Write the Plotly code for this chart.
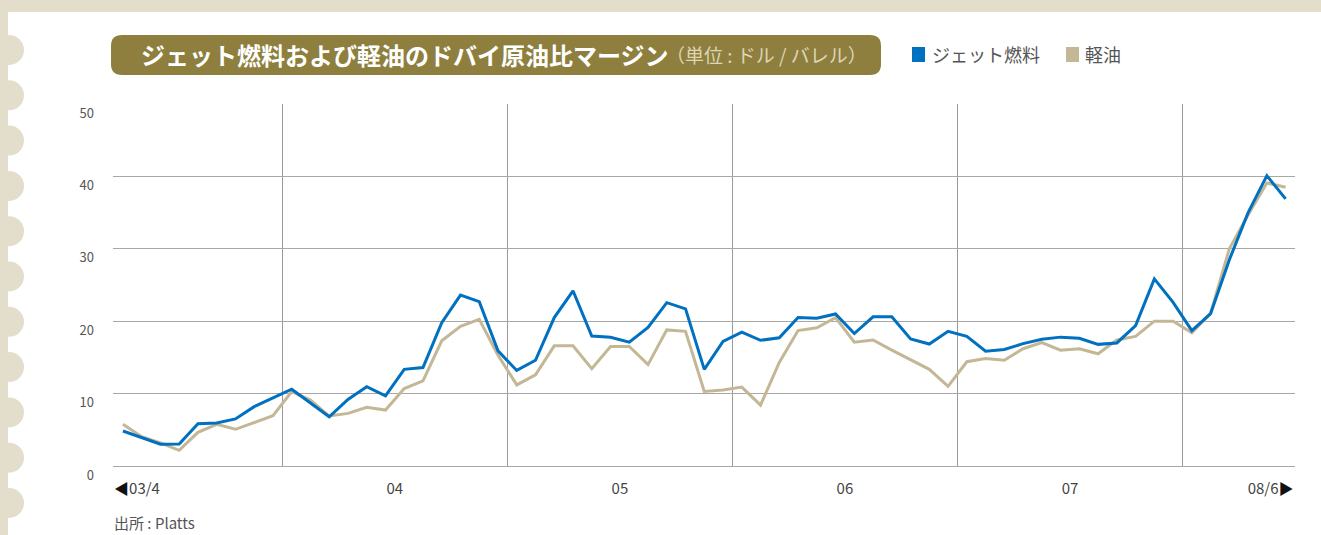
import plotly.graph_objects as go

# ---- data (monthly, 2003/4 .. 2008/6) ----
months = list(range(63))
jet = [4.83, 3.9, 3.0, 3.04, 5.85, 5.94, 6.5, 8.2, 9.35, 10.6, 8.7, 6.8, 9.2, 10.95, 9.7,
       13.35, 13.6, 19.8, 23.6, 22.7, 15.9, 13.2, 14.6,
       20.5, 24.2, 17.96, 17.77, 17.1, 19.15, 22.56, 21.7, 13.35, 17.2, 18.5, 17.36, 17.7,
       20.5, 20.4, 21.0, 18.3, 20.6, 20.6, 17.54, 16.85, 18.6,
       17.9, 15.85, 16.1, 16.9, 17.5, 17.8, 17.65, 16.8, 17.0, 19.4, 25.85, 22.6, 18.7,
       21.06, 28.5, 35.0, 40.1, 36.9]
diesel = [5.75, 4.05, 3.2, 2.17, 4.65, 5.75, 5.07, 6.03, 6.95, 10.27, 9.1, 6.9, 7.27, 8.1, 7.73,
          10.7, 11.75, 17.3, 19.3, 20.25, 15.3, 11.2, 12.6,
          16.6, 16.6, 13.45, 16.5, 16.5, 14.0, 18.8, 18.6, 10.3, 10.5, 10.9, 8.4, 14.3,
          18.7, 19.1, 20.5, 17.1, 17.4, 16.0, 14.7, 13.35, 11.0,
          14.4, 14.84, 14.6, 16.2, 17.05, 16.0, 16.2, 15.5, 17.4, 17.9, 20.0, 20.0, 18.4,
          21.1, 30.0, 34.7, 39.1, 38.5]
x_tickvals = [0.75, 14.5, 26.5, 38.5, 50.5, 61.2]
x_ticktext = ["<span style='color:#111'>◀</span>03/4", "04", "05", "06", "07",
              "08/6<span style='color:#111'>▶</span>"]
y_tickvals = [0, 10, 20, 30, 40, 50]

series_names = ["ジェット燃料", "軽油"]
title_main = "ジェット燃料および軽油のドバイ原油比マージン"
title_unit = "（単位 : ドル / バレル）"
source_text = "出所 : Platts"

BLUE = "#0070c0"
TAN = "#c4b796"
BEIGE = "#e3ddcb"
OLIVE = "#8e7f3e"
FONT = "Noto Sans CJK JP"

W, H = 1321, 535
L, R, T, B = 113, 1295, 104, 466


def px(x):
    return (x - L) / (R - L)


def py(y):
    return (B - y) / (B - T)


fig = go.Figure()
fig.add_trace(go.Scatter(x=months, y=diesel, mode="lines", name=series_names[1],
                         line=dict(color=TAN, width=3), showlegend=False))
fig.add_trace(go.Scatter(x=months, y=jet, mode="lines", name=series_names[0],
                         line=dict(color=BLUE, width=3), showlegend=False))

shapes = []
# beige frame: top band, left band, scallops
shapes.append(dict(type="rect", xref="paper", yref="paper", x0=px(0), x1=px(W), y0=py(0), y1=py(12),
                   fillcolor=BEIGE, line=dict(width=0), layer="below"))
shapes.append(dict(type="rect", xref="paper", yref="paper", x0=px(0), x1=px(8), y0=py(0), y1=py(H),
                   fillcolor=BEIGE, line=dict(width=0), layer="below"))
for k in range(11):
    cy = 50 + 45.3 * k
    r = 15
    shapes.append(dict(type="circle", xref="paper", yref="paper", x0=px(9 - r), x1=px(9 + r),
                       y0=py(cy + r), y1=py(cy - r), fillcolor=BEIGE, line=dict(width=0), layer="below"))

# rounded title box
x0, x1, y0, y1, rr = 111, 881, 35, 75, 11
path = (f"M {px(x0+rr)},{py(y0)} L {px(x1-rr)},{py(y0)} Q {px(x1)},{py(y0)} {px(x1)},{py(y0+rr)} "
        f"L {px(x1)},{py(y1-rr)} Q {px(x1)},{py(y1)} {px(x1-rr)},{py(y1)} "
        f"L {px(x0+rr)},{py(y1)} Q {px(x0)},{py(y1)} {px(x0)},{py(y1-rr)} "
        f"L {px(x0)},{py(y0+rr)} Q {px(x0)},{py(y0)} {px(x0+rr)},{py(y0)} Z")
shapes.append(dict(type="path", xref="paper", yref="paper", path=path, fillcolor=OLIVE,
                   line=dict(width=0), layer="below"))

# legend squares
shapes.append(dict(type="rect", xref="paper", yref="paper", x0=px(912), x1=px(925), y0=py(62), y1=py(47),
                   fillcolor=BLUE, line=dict(width=0)))
shapes.append(dict(type="rect", xref="paper", yref="paper", x0=px(1066), x1=px(1079), y0=py(62), y1=py(47),
                   fillcolor=TAN, line=dict(width=0)))

annotations = [
    dict(text=f"<b>{title_main}</b>", xref="paper", yref="paper", x=px(139), y=py(55),
         xanchor="left", yanchor="middle", showarrow=False,
         font=dict(family=FONT, size=24, color="white")),
    dict(text=title_unit, xref="paper", yref="paper", x=px(664), y=py(55),
         xanchor="left", yanchor="middle", showarrow=False,
         font=dict(family=FONT, size=19, color="#ddd5b5")),
    dict(text=series_names[0], xref="paper", yref="paper", x=px(930), y=py(54),
         xanchor="left", yanchor="middle", showarrow=False,
         font=dict(family=FONT, size=18, color="#555555")),
    dict(text=series_names[1], xref="paper", yref="paper", x=px(1083), y=py(54),
         xanchor="left", yanchor="middle", showarrow=False,
         font=dict(family=FONT, size=18, color="#555555")),
    dict(text=source_text, xref="paper", yref="paper", x=px(112), y=py(522),
         xanchor="left", yanchor="middle", showarrow=False,
         font=dict(family=FONT, size=15, color="#555555")),
]

fig.update_layout(
    width=W, height=H,
    margin=dict(l=L, r=W - R, t=T, b=H - B, pad=0),
    paper_bgcolor="white", plot_bgcolor="white",
    shapes=shapes, annotations=annotations,
    showlegend=False,
    xaxis=dict(range=[-0.53, 62.5], tickvals=x_tickvals, ticktext=x_ticktext,
               showgrid=False, zeroline=False, showline=False, ticks="",
               tickfont=dict(family=FONT, size=15, color="#444444"),
               ticklabelstandoff=12,
               minor=dict(tick0=8.5, dtick=12, showgrid=True, gridcolor="#9a9a9a", gridwidth=1)),
    yaxis=dict(range=[0, 50], tickvals=y_tickvals, showgrid=True, gridcolor="#a8a8a8", gridwidth=1,
               zeroline=True, zerolinecolor="#a8a8a8", zerolinewidth=1, showline=False, ticks="",
               tickfont=dict(family=FONT, size=13, color="#555555"),
               ticklabelstandoff=18, ticklabelshift=9),
)

fig.write_html("out.html", config={"displayModeBar": False},
               post_script="document.body.style.margin='0';document.body.style.padding='0';"
                           "document.documentElement.style.overflow='hidden';")
